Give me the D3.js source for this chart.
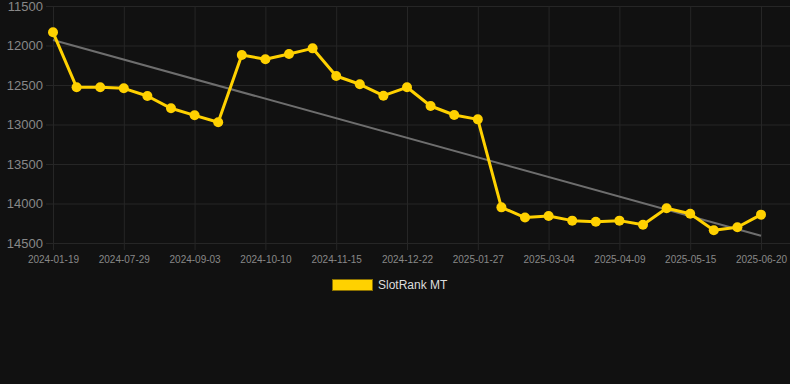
<!DOCTYPE html>
<html>
<head>
<meta charset="utf-8">
<script src="https://cdn.jsdelivr.net/npm/d3@7"></script>
<style>
    html, body { margin: 0; padding: 0; background: #111111; }
    svg { display: block; font-family: Arial, 'Liberation Sans', sans-serif; }
</style>
</head>
<body>
<div id="wrapper"></div>
<script>
// dates on the category axis (only every third one is shown as a tick)
const dates = [
    '2024-01-19', '2024-06-11', '2024-07-17', '2024-07-29', '2024-08-10', '2024-08-22',
    '2024-09-03', '2024-09-15', '2024-09-28', '2024-10-10', '2024-10-22', '2024-11-03',
    '2024-11-15', '2024-11-27', '2024-12-10', '2024-12-22', '2025-01-03', '2025-01-15',
    '2025-01-27', '2025-02-08', '2025-02-20', '2025-03-04', '2025-03-16', '2025-03-28',
    '2025-04-09', '2025-04-21', '2025-05-03', '2025-05-15', '2025-05-27', '2025-06-08',
    '2025-06-20'
];

const rankValues = [
    11833, 12529, 12529, 12542, 12639, 12795, 12884, 12972, 12120, 12175,
    12108, 12036, 12386, 12491, 12635, 12529, 12766, 12880, 12935, 14049,
    14178, 14158, 14217, 14230, 14217, 14268, 14061, 14129, 14339, 14301,
    14141
];

// trend line: value at the first and last date
const trendValues = [11930, 14408];

const yTicks = [11500, 12000, 12500, 13000, 13500, 14000, 14500];
const seriesName = 'SlotRank MT';

function drawChart() {
    const dimensions = {
        width: 790,
        height: 384,
        margin: { top: 6, right: 29, bottom: 141, left: 53 },
    };
    dimensions.boundedWidth = dimensions.width - dimensions.margin.left - dimensions.margin.right;
    dimensions.boundedHeight = dimensions.height - dimensions.margin.top - dimensions.margin.bottom;

    const wrapper = d3.select('#wrapper')
        .append('svg')
        .attr('width', dimensions.width)
        .attr('height', dimensions.height);

    wrapper.append('rect')
        .attr('width', dimensions.width)
        .attr('height', dimensions.height)
        .attr('fill', '#111111');

    const bounds = wrapper.append('g')
        .attr('transform', `translate(${dimensions.margin.left},${dimensions.margin.top})`);

    // scales
    const xScale = d3.scalePoint()
        .domain(dates)
        .range([0, dimensions.boundedWidth]);

    const yScale = d3.scaleLinear()
        .domain([11500, 14500])
        .range([0, dimensions.boundedHeight]);

    // grid + axes
    const yAxisGenerator = d3.axisLeft(yScale)
        .tickValues(yTicks)
        .tickFormat(d3.format('d'))
        .tickSize(-(dimensions.boundedWidth + dimensions.margin.right) - 7)
        .tickPadding(3);

    const yAxis = bounds.append('g')
        .attr('transform', 'translate(-7,0)')
        .call(yAxisGenerator);
    yAxis.select('.domain').remove();
    yAxis.selectAll('.tick line').attr('stroke', '#262626');
    yAxis.selectAll('.tick text')
        .attr('fill', '#888888')
        .attr('font-size', '13px');

    const shownDates = dates.filter((d, i) => i % 3 === 0);

    const xAxisGenerator = d3.axisBottom(xScale)
        .tickValues(shownDates)
        .tickSize(-(dimensions.boundedHeight) - 7)
        .tickPadding(6);

    const xAxis = bounds.append('g')
        .attr('transform', `translate(0,${dimensions.boundedHeight + 7})`)
        .call(xAxisGenerator);
    xAxis.select('.domain').remove();
    xAxis.selectAll('.tick line').attr('stroke', '#262626');
    xAxis.selectAll('.tick text')
        .attr('fill', '#888888')
        .attr('font-size', '10px');

    // trend line
    const first = dates[0];
    const last = dates[dates.length - 1];
    bounds.append('line')
        .attr('x1', xScale(first))
        .attr('y1', yScale(trendValues[0]))
        .attr('x2', xScale(last))
        .attr('y2', yScale(trendValues[1]))
        .attr('stroke', '#6e6e6e')
        .attr('stroke-width', 2);

    // series
    const lineGenerator = d3.line()
        .x((d, i) => xScale(dates[i]))
        .y(d => yScale(d));

    bounds.append('path')
        .attr('d', lineGenerator(rankValues))
        .attr('fill', 'none')
        .attr('stroke', '#FFD100')
        .attr('stroke-width', 3)
        .attr('stroke-linejoin', 'round');

    bounds.selectAll('.dot')
        .data(rankValues)
        .join('circle')
        .attr('class', 'dot')
        .attr('cx', (d, i) => xScale(dates[i]))
        .attr('cy', d => yScale(d))
        .attr('r', 5)
        .attr('fill', '#FFD100');

    // legend
    const legend = wrapper.append('g')
        .attr('transform', 'translate(332,279)');

    legend.append('rect')
        .attr('x', 0.5)
        .attr('y', 0.5)
        .attr('width', 40)
        .attr('height', 11)
        .attr('fill', '#FFD100')
        .attr('stroke', '#8a7000')
        .attr('stroke-width', 1);

    legend.append('text')
        .attr('x', 46)
        .attr('y', 10)
        .attr('fill', '#dddddd')
        .attr('font-size', '12px')
        .text(seriesName);
}

drawChart();
</script>
</body>
</html>
